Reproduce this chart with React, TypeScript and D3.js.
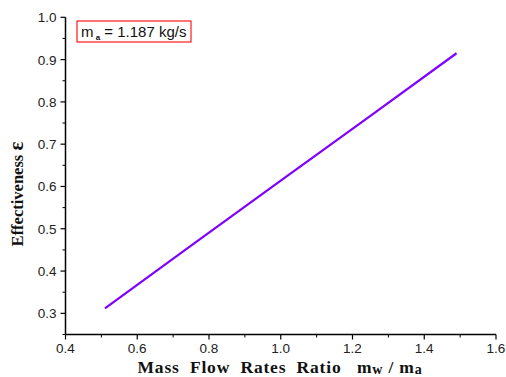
import React from "react";
import * as d3 from "d3";

const ratioValues = [0.51, 0.75, 1.0, 1.25, 1.49];
const effectiveness = [0.312, 0.46, 0.614, 0.767, 0.915];
const xTicks = [0.4, 0.6, 0.8, 1.0, 1.2, 1.4, 1.6];
const yTicks = [0.3, 0.4, 0.5, 0.6, 0.7, 0.8, 0.9, 1.0];

const W = 506, H = 377;
const left = 65.5, right = 496, top = 17.3, bottom = 334.5;

export default function App() {
  const x = d3.scaleLinear().domain([0.4, 1.6]).range([left, right]);
  const y = d3.scaleLinear().domain([0.25, 1.0]).range([bottom, top]);
  const line = d3.line<number>().x((_, i) => x(ratioValues[i])).y((d) => y(d));
  const xMinor = d3.range(0.5, 1.6, 0.2);
  const yMinor = d3.range(0.25, 1.0, 0.1);
  return (
    <svg width={W} height={H} style={{ position: "absolute", left: 0, top: 0 }}>
      <rect width={W} height={H} fill="#fff" />
      <line x1={left} x2={left} y1={top} y2={bottom} stroke="#000" strokeWidth={1.5} />
      <line x1={left} x2={right} y1={bottom} y2={bottom} stroke="#000" strokeWidth={1.5} />
      {xTicks.map((t) => (
        <g key={"xt" + t}>
          <line x1={x(t)} x2={x(t)} y1={bottom} y2={bottom + 5} stroke="#000" strokeWidth={1.2} />
          <text x={x(t)} y={bottom + 18.5} textAnchor="middle" fontFamily="Liberation Sans, Arial" fontSize={13.5} fill="#222">
            {t.toFixed(1)}
          </text>
        </g>
      ))}
      {xMinor.map((t) => (
        <line key={"xm" + t} x1={x(t)} x2={x(t)} y1={bottom} y2={bottom + 3} stroke="#000" strokeWidth={1} />
      ))}
      {yTicks.map((t) => (
        <g key={"yt" + t}>
          <line x1={left - 5} x2={left} y1={y(t)} y2={y(t)} stroke="#000" strokeWidth={1.2} />
          <text x={left - 9} y={y(t) + 5} textAnchor="end" fontFamily="Liberation Sans, Arial" fontSize={13.5} fill="#222">
            {t.toFixed(1)}
          </text>
        </g>
      ))}
      {yMinor.map((t) => (
        <line key={"ym" + t} x1={left - 3} x2={left} y1={y(t)} y2={y(t)} stroke="#000" strokeWidth={1} />
      ))}
      <path d={line(effectiveness) || ""} fill="none" stroke="#8000ff" strokeWidth={2.2} />
      <rect x={77} y={21} width={114} height={21} fill="#fff" stroke="#ff1a1a" strokeWidth={1.2} />
      <text x={81} y={37} fontFamily="Liberation Sans, Arial" fontSize={15} fill="#111" style={{ whiteSpace: "pre" }}>
        m<tspan fontSize={8} dy={3} fontWeight="bold"> a</tspan>
        <tspan dy={-3}> = 1.187 kg/s</tspan>
      </text>
      <text x={280} y={372.5} textAnchor="middle" fontFamily="Liberation Serif, Times New Roman" fontWeight="bold" fontSize={17.5} letterSpacing={0.8} fill="#111" style={{ whiteSpace: "pre" }}>
        {"Mass  Flow  Rates  Ratio   m"}
        <tspan fontSize={14} dy={1.5}>w</tspan>
        <tspan dy={-1.5}>{" / m"}</tspan>
        <tspan fontSize={14} dy={1.5}>a</tspan>
      </text>
      <text transform={`translate(23,194) rotate(-90)`} textAnchor="middle" fontFamily="Liberation Serif, Times New Roman" fontWeight="bold" fontSize={16.5} fill="#111" style={{ whiteSpace: "pre" }}>
        {"Effectiveness "}<tspan fontSize={21}>ε</tspan>
      </text>
    </svg>
  );
}
